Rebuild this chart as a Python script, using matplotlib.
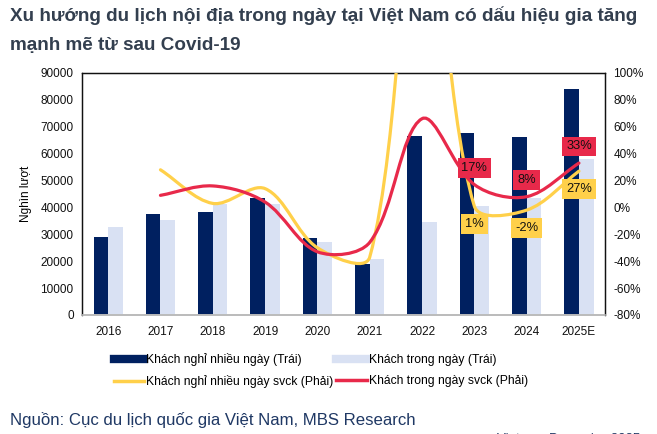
import matplotlib
matplotlib.use("Agg")
import matplotlib.pyplot as plt
import numpy as np
from matplotlib.path import Path
from matplotlib.patches import PathPatch
from matplotlib.lines import Line2D

plt.rcParams['font.family'] = ['Liberation Sans', 'DejaVu Sans']

years = ["2016", "2017", "2018", "2019", "2020", "2021", "2022", "2023", "2024", "2025E"]
multi_day = [29000, 37400, 38400, 43400, 28500, 18900, 66600, 67600, 66100, 84000]
day_trip = [32600, 35400, 41300, 41300, 27000, 20800, 34500, 40500, 43600, 58000]
# yoy growth (%), starting 2017
multi_day_yoy = [28, 3, 14, -30, -37, 253, 1, -2, 27]
day_trip_yoy = [9, 16, 4, -33, -26, 66, 17, 8, 33]
labelled = ["2023", "2024", "2025E"]

NAVY = "#002060"
LIGHT = "#D9E1F3"
YELLOW = "#FFD04A"
RED = "#E8294A"


def smooth_path(axis, xs, ys, s=1.0 / 3):
    # Excel-style smoothed line: cubic Bezier segments built in display space
    tr = axis.transData
    pts = tr.transform(np.column_stack([xs, ys]).astype(float))
    ext = np.vstack([pts[0], pts, pts[-1]])
    verts = [pts[0]]
    codes = [Path.MOVETO]
    for i in range(1, len(ext) - 2):
        p0, p1, p2, p3 = ext[i - 1], ext[i], ext[i + 1], ext[i + 2]
        d01 = np.hypot(*(p1 - p0))
        d12 = np.hypot(*(p2 - p1))
        d23 = np.hypot(*(p3 - p2))
        c1 = p1 + (p2 - p0) * s * d12 / max(d01 + d12, 1e-9)
        c2 = p2 - (p3 - p1) * s * d12 / max(d12 + d23, 1e-9)
        verts += [c1, c2, p2]
        codes += [Path.CURVE4] * 3
    verts = tr.inverted().transform(np.array(verts))
    return Path(verts, codes)


fig = plt.figure(figsize=(6.57, 4.34), dpi=100)
ax = fig.add_axes([0.1248, 0.2742, 0.7962, 0.5576])
ax2 = ax.twinx()

x = np.arange(len(years))
w = 0.28
ax.bar(x - w / 2, multi_day, w, color=NAVY, zorder=2)
ax.bar(x + w / 2, day_trip, w, color=LIGHT, zorder=2)
ax.set_xlim(-0.5, len(years) - 0.5)
ax.set_ylim(0, 90000)
ax.set_yticks(range(0, 90001, 10000))
ax.set_xticks(x)
ax.set_xticklabels(years)
ax.tick_params(length=0, labelsize=8.5, colors="#111111", pad=8)
ax.tick_params(axis="y", pad=6)
ax.set_ylabel("Nghìn lượt", fontsize=8.5, labelpad=6)

ax2.set_ylim(-80, 100)
ax2.set_yticks(range(-80, 101, 20))
ax2.set_yticklabels([f"{v}%" for v in range(-80, 101, 20)])
ax2.tick_params(length=0, labelsize=8.5, colors="#111111", pad=6)

for a in (ax, ax2):
    for s in ("top", "left", "right"):
        a.spines[s].set_color("#111111")
        a.spines[s].set_linewidth(0.9)
    a.spines["bottom"].set_color("#BBBBBB")
    a.spines["bottom"].set_linewidth(1.2)

xl = x[1:]
ax2.add_patch(PathPatch(smooth_path(ax2, xl, multi_day_yoy), fill=False,
                        edgecolor=YELLOW, lw=2.3, zorder=3, capstyle="round"))
ax2.add_patch(PathPatch(smooth_path(ax2, xl, day_trip_yoy), fill=False,
                        edgecolor=RED, lw=2.3, zorder=4, capstyle="round"))

for i, yr in enumerate(years[1:]):
    if yr not in labelled:
        continue
    xi = xl[i]
    ax2.annotate(f"{day_trip_yoy[i]}%", (xi, day_trip_yoy[i]), xytext=(0, 12),
                 textcoords="offset points", ha="center", va="center", fontsize=9.3,
                 color="#111111", zorder=6,
                 bbox=dict(boxstyle="square,pad=0.3", fc=RED, ec="none"))
    ax2.annotate(f"{multi_day_yoy[i]}%", (xi, multi_day_yoy[i]), xytext=(0, -13),
                 textcoords="offset points", ha="center", va="center", fontsize=9.3,
                 color="#111111", zorder=6,
                 bbox=dict(boxstyle="square,pad=0.3", fc=YELLOW, ec="none"))

handles = [
    Line2D([], [], color=NAVY, lw=6),
    Line2D([], [], color=YELLOW, lw=2.5),
    Line2D([], [], color=LIGHT, lw=6),
    Line2D([], [], color=RED, lw=2.5),
]
names = ["Khách nghỉ nhiều ngày (Trái)", "Khách nghỉ nhiều ngày svck (Phải)",
         "Khách trong ngày (Trái)", "Khách trong ngày svck (Phải)"]
fig.legend(handles, names, ncol=2, loc="center", bbox_to_anchor=(0.488, 0.146),
           frameon=False, fontsize=8.7, handlelength=2.5, handletextpad=0.15,
           columnspacing=0.3, labelspacing=0.75)

fig.text(0.015, 0.986, "Xu hướng du lịch nội địa trong ngày tại Việt Nam có dấu hiệu gia tăng\nmạnh mẽ từ sau Covid-19",
         fontsize=13.6, fontweight="bold", color="#333F4F", va="top", ha="left",
         linespacing=1.95)
fig.text(0.015, 0.032, "Nguồn: Cục du lịch quốc gia Việt Nam, MBS Research",
         fontsize=12.1, color="#1F3864", va="center", ha="left")
fig.text(0.757, -0.012, "Vietnam Dynamics 2025", fontsize=9.5, color="#1F3864",
         va="center", ha="left")

fig.savefig("out.png", dpi=100)
